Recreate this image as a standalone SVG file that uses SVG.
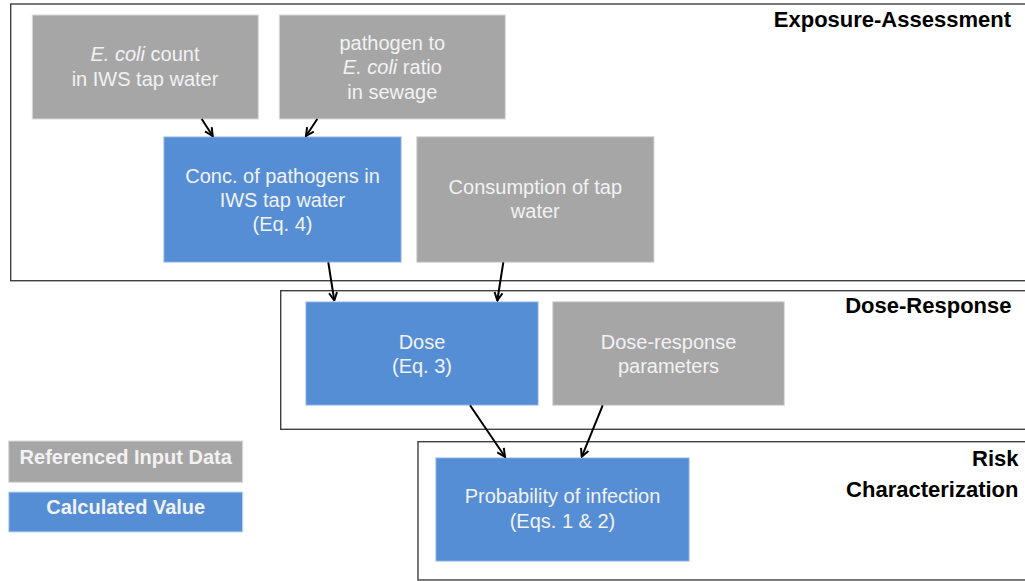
<svg xmlns="http://www.w3.org/2000/svg" width="1025" height="581" viewBox="0 0 1025 581">
<style>
.stage{fill:#ffffff;stroke:#404040;stroke-width:1.4}
.gray{fill:#a6a6a6;stroke:#d9d9d9;stroke-width:1}
.blue{fill:#558ed5;stroke:#c6d9f1;stroke-width:1}
.t{font-family:"Liberation Sans",Arial,sans-serif;font-size:20px;fill:#f2f2f2;text-anchor:middle}
.lg{font-family:"Liberation Sans",Arial,sans-serif;font-size:20px;font-weight:bold;fill:#f2f2f2;text-anchor:middle}
.title{font-family:"Liberation Sans",Arial,sans-serif;font-size:22px;font-weight:bold;fill:#000000;text-anchor:end}
.conn{stroke:#000000;stroke-width:2;fill:none;marker-end:url(#arr)}
</style>
<defs>
<marker id="arr" viewBox="0 0 10 10" refX="9" refY="5" markerWidth="5" markerHeight="5" orient="auto" markerUnits="strokeWidth">
<path d="M1,1 L9,5 L1,9" fill="none" stroke="#000000" stroke-width="2"/>
</marker>
</defs>

<g id="stage-exposure">
<rect class="stage" x="10.7" y="4" width="1030" height="276.7"/>
<text class="title" x="1011" y="27">Exposure-Assessment</text>
</g>
<g id="stage-dose-response">
<rect class="stage" x="280.7" y="290.7" width="760" height="138.6"/>
<text class="title" x="1011.5" y="313">Dose-Response</text>
</g>
<g id="stage-risk">
<rect class="stage" x="418" y="441.7" width="620" height="138.3"/>
<text class="title" x="1018.5" y="466">Risk</text>
<text class="title" x="1018.5" y="497">Characterization</text>
</g>

<g id="node-ecoli-count">
<rect class="gray" x="32.3" y="15" width="226" height="104"/>
<text class="t" x="145" y="61"><tspan font-style="italic">E. coli</tspan> count</text>
<text class="t" x="145" y="86">in IWS tap water</text>
</g>
<g id="node-ratio">
<rect class="gray" x="279.3" y="15" width="226" height="104"/>
<text class="t" x="392.3" y="49.5">pathogen to</text>
<text class="t" x="392.3" y="74"><tspan font-style="italic">E. coli</tspan> ratio</text>
<text class="t" x="392.3" y="99">in sewage</text>
</g>
<g id="node-conc">
<rect class="blue" x="163.7" y="136.7" width="237.6" height="125.6"/>
<text class="t" x="282.5" y="182.7">Conc. of pathogens in</text>
<text class="t" x="282.5" y="206.7">IWS tap water</text>
<text class="t" x="282.5" y="231">(Eq. 4)</text>
</g>
<g id="node-consumption">
<rect class="gray" x="416.7" y="136.7" width="237.3" height="125.6"/>
<text class="t" x="535.3" y="194">Consumption of tap</text>
<text class="t" x="535.3" y="217.7">water</text>
</g>
<g id="node-dose">
<rect class="blue" x="305.7" y="301.7" width="232.6" height="103.6"/>
<text class="t" x="422" y="349">Dose</text>
<text class="t" x="422" y="373">(Eq. 3)</text>
</g>
<g id="node-dr-params">
<rect class="gray" x="552.7" y="301.7" width="231.6" height="103.6"/>
<text class="t" x="668.5" y="349">Dose-response</text>
<text class="t" x="668.5" y="373">parameters</text>
</g>
<g id="node-probability">
<rect class="blue" x="435.7" y="457.7" width="253.6" height="103.6"/>
<text class="t" x="562.5" y="503.3">Probability of infection</text>
<text class="t" x="562.5" y="528">(Eqs. 1 &amp; 2)</text>
</g>

<g id="legend-input">
<rect class="gray" x="8.7" y="441" width="234" height="41.3"/>
<text class="lg" x="125.7" y="464.3">Referenced Input Data</text>
</g>
<g id="legend-calculated">
<rect class="blue" x="8.7" y="492" width="234" height="40"/>
<text class="lg" x="125.7" y="514">Calculated Value</text>
</g>

<g id="connectors">
<line class="conn" x1="201.7" y1="119" x2="212.7" y2="136"/>
<line class="conn" x1="317.3" y1="119" x2="306" y2="136"/>
<line class="conn" x1="328.3" y1="262.3" x2="334.3" y2="300.5"/>
<line class="conn" x1="503.3" y1="262.3" x2="497.3" y2="300.5"/>
<line class="conn" x1="470" y1="405.3" x2="505" y2="456.8"/>
<line class="conn" x1="602.7" y1="405.3" x2="581.7" y2="456.8"/>
</g>
</svg>
